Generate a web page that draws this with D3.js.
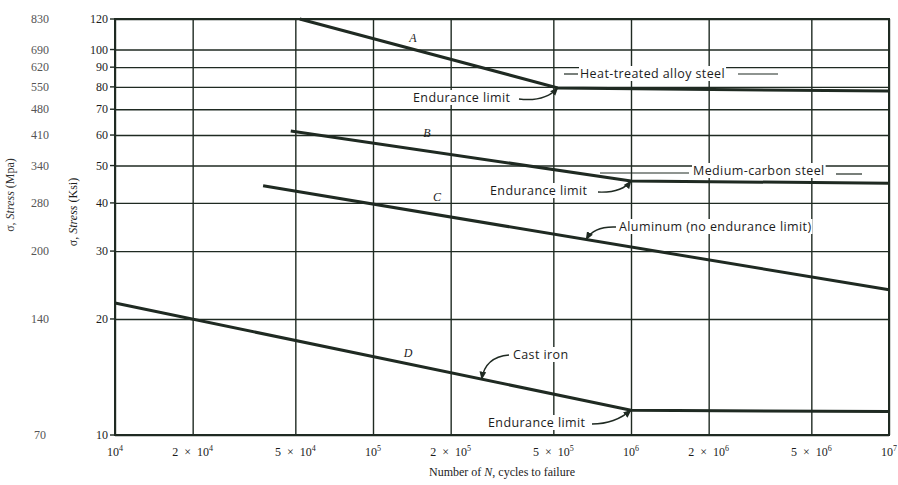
<!DOCTYPE html>
<html>
<head>
<meta charset="utf-8">
<script src="https://cdn.jsdelivr.net/npm/d3@7"></script>
<style>
  body { margin: 0; background: #fff; }
  .note { font-family: "Open Sans", sans-serif; font-size: 12.5px; letter-spacing: 0.4px; fill: #1c1c1c; }
  .tick-label { font-family: "Liberation Serif", serif; font-size: 12px; fill: #1c1c1c; }
</style>
</head>
<body>
<div id="chart"></div>
<script>
// cycles axis
const cycleTicks = [1e4, 2e4, 5e4, 1e5, 2e5, 5e5, 1e6, 2e6, 5e6, 1e7];
const cycleMant = ["", "2", "5", "", "2", "5", "", "2", "5", ""];
const cycleExp = ["4", "4", "4", "5", "5", "5", "6", "6", "6", "7"];

// stress axes
const ksiTicks = [10, 20, 30, 40, 50, 60, 70, 80, 90, 100, 120];
const mpaLabels = ["70", "140", "200", "280", "340", "410", "480", "550", "620", "690", "830"];

// curves (N cycles, stress in ksi)
const curveA_N = [5.2e4, 5.2e5, 1e7];
const curveA_S = [120, 79.5, 78];
const curveB_N = [4.8e4, 1e6, 1e7];
const curveB_S = [61.5, 45.6, 45];
const curveC_N = [3.75e4, 1e7];
const curveC_S = [44.3, 23.8];
const curveD_N = [1e4, 1e6, 1e7];
const curveD_S = [22, 11.6, 11.5];

const WIDTH = 898;
const HEIGHT = 485;
const MARGINS = {left: 115, right: 9, top: 19, bottom: 50};
const INK = "#1f2a22";

const svg = d3.select("#chart")
    .append("svg")
        .attr("width", WIDTH)
        .attr("height", HEIGHT);

const X_SCALE = d3.scaleLog()
                    .domain([1e4, 1e7])
                    .range([MARGINS.left, WIDTH - MARGINS.right]);

const Y_SCALE = d3.scaleLog()
                    .domain([10, 120])
                    .range([HEIGHT - MARGINS.bottom, MARGINS.top]);

// grid
svg.append("g")
    .attr("transform", "translate(0," + (HEIGHT - MARGINS.bottom) + ")")
    .call(d3.axisBottom(X_SCALE)
            .tickValues(cycleTicks)
            .tickSize(-(HEIGHT - MARGINS.top - MARGINS.bottom))
            .tickFormat(""))
    .call(g => g.select(".domain").remove())
    .call(g => g.selectAll("line").attr("stroke", INK).attr("stroke-width", 1.4));

svg.append("g")
    .attr("transform", "translate(" + MARGINS.left + ",0)")
    .call(d3.axisLeft(Y_SCALE)
            .tickValues(ksiTicks)
            .tickSizeInner(-(WIDTH - MARGINS.left - MARGINS.right))
            .tickSizeOuter(0)
            .tickFormat(""))
    .call(g => g.select(".domain").remove())
    .call(g => g.selectAll("line").attr("stroke", INK).attr("stroke-width", 1.4));

// small outward ticks on the left
svg.selectAll("ytick")
    .data(ksiTicks)
    .enter()
    .append("line")
        .attr("x1", MARGINS.left - 5)
        .attr("x2", MARGINS.left)
        .attr("y1", d => Y_SCALE(d))
        .attr("y2", d => Y_SCALE(d))
        .attr("stroke", INK)
        .attr("stroke-width", 1.4);

svg.append("rect")
    .attr("x", MARGINS.left)
    .attr("y", MARGINS.top)
    .attr("width", WIDTH - MARGINS.left - MARGINS.right)
    .attr("height", HEIGHT - MARGINS.top - MARGINS.bottom)
    .attr("fill", "none")
    .attr("stroke", INK)
    .attr("stroke-width", 2);

// tick labels
const xLab = svg.selectAll("xlab")
    .data(cycleTicks)
    .enter()
    .append("text")
        .attr("class", "tick-label")
        .attr("x", d => X_SCALE(d))
        .attr("y", HEIGHT - MARGINS.bottom + 21)
        .attr("text-anchor", "middle");
xLab.append("tspan")
    .text((d, i) => cycleMant[i] ? cycleMant[i] + "\u2002×\u200210" : "10");
xLab.append("tspan")
    .attr("dy", -5)
    .attr("font-size", "8px")
    .text((d, i) => cycleExp[i]);

svg.selectAll("ylab")
    .data(ksiTicks)
    .enter()
    .append("text")
        .attr("class", "tick-label")
        .attr("x", MARGINS.left - 7)
        .attr("y", d => Y_SCALE(d) + 4)
        .attr("text-anchor", "end")
        .text(d => d);

svg.selectAll("mpalab")
    .data(ksiTicks)
    .enter()
    .append("text")
        .attr("class", "tick-label")
        .attr("x", 40)
        .attr("y", d => Y_SCALE(d) + 4)
        .attr("text-anchor", "middle")
        .style("fill", "#555")
        .attr("font-size", "11px")
        .text((d, i) => mpaLabels[i]);

// axis titles
const xTitle = svg.append("text")
    .attr("class", "tick-label")
    .attr("x", 502)
    .attr("y", 476)
    .attr("text-anchor", "middle");
xTitle.append("tspan").text("Number of ");
xTitle.append("tspan").attr("font-style", "italic").text("N");
xTitle.append("tspan").text(", cycles to failure");

function sideTitle(x, y, unit, color) {
    const t = svg.append("text")
        .attr("class", "tick-label")
        .attr("transform", "translate(" + x + "," + y + ") rotate(-90)")
        .attr("text-anchor", "middle")
        .style("fill", color);
    t.append("tspan").text("σ, ");
    t.append("tspan").attr("font-style", "italic").text("Stress");
    t.append("tspan").text(" (" + unit + ")");
}
sideTitle(14, 195, "Mpa", "#333");
sideTitle(77, 212, "Ksi", "#1c1c1c");

// curves
const line = d3.line()
    .x(d => X_SCALE(d[0]))
    .y(d => Y_SCALE(d[1]));

[[curveA_N, curveA_S], [curveB_N, curveB_S], [curveC_N, curveC_S], [curveD_N, curveD_S]]
    .forEach(c => {
        svg.append("path")
            .datum(d3.zip(c[0], c[1]))
            .attr("d", line)
            .attr("fill", "none")
            .attr("stroke", INK)
            .attr("stroke-width", 3);
    });

// annotations
svg.append("defs").append("marker")
    .attr("id", "arrow")
    .attr("viewBox", "0 0 10 10")
    .attr("refX", 9)
    .attr("refY", 5)
    .attr("markerWidth", 6)
    .attr("markerHeight", 6)
    .attr("orient", "auto")
    .append("path")
        .attr("d", "M0,1 L10,5 L0,9 Z")
        .attr("fill", INK);

const noteLayer = svg.append("g");

function note(x, y, txt, anchor) {
    const g = noteLayer.append("g");
    const bg = g.append("rect").attr("fill", "#fff");
    const t = g.append("text")
        .attr("class", "note")
        .attr("x", x)
        .attr("y", y)
        .attr("text-anchor", anchor || "start")
        .text(txt);
    const b = t.node().getBBox();
    bg.attr("x", b.x - 1).attr("y", b.y + 1)
      .attr("width", b.width + 2).attr("height", b.height - 2);
}
function letter(x, y, txt) {
    svg.append("text")
        .attr("class", "tick-label")
        .attr("x", x)
        .attr("y", y)
        .attr("text-anchor", "middle")
        .attr("font-style", "italic")
        .text(txt);
}
function leader(x1, y1, x2, y2) {
    svg.append("line")
        .attr("x1", x1).attr("y1", y1)
        .attr("x2", x2).attr("y2", y2)
        .attr("stroke", INK)
        .attr("stroke-width", 1.2);
}
function curl(x1, y1, cx, cy, tip, head) {
    const p = d3.path();
    p.moveTo(x1, y1);
    p.quadraticCurveTo(cx, cy, tip[0], tip[1]);
    svg.append("path")
        .attr("d", p.toString())
        .attr("fill", "none")
        .attr("stroke", INK)
        .attr("stroke-width", 1.4)
        .attr("marker-end", head ? "url(#arrow)" : null);
}
function onCurve(Ns, Ss, n) {
    const i = d3.bisectRight(Ns, n) - 1;
    const t = (Math.log(n) - Math.log(Ns[i])) / (Math.log(Ns[i + 1]) - Math.log(Ns[i]));
    const s = Math.exp(Math.log(Ss[i]) + t * (Math.log(Ss[i + 1]) - Math.log(Ss[i])));
    return [X_SCALE(n), Y_SCALE(s)];
}

letter(413, 42, "A");
note(580, 78, "Heat-treated alloy steel");
leader(564, 74, 578, 74);
leader(738, 74, 778, 74);
note(413, 102, "Endurance limit");
curl(519, 99, 545, 102, [X_SCALE(curveA_N[1]), Y_SCALE(curveA_S[1])], true);

letter(427, 137, "B");
note(693, 175, "Medium-carbon steel");
leader(600, 173, 689, 173);
leader(836, 174, 862, 174);
note(490, 195, "Endurance limit");
curl(598, 192, 622, 193, [X_SCALE(curveB_N[1]), Y_SCALE(curveB_S[1])], true);

letter(437, 201, "C");
note(619, 231, "Aluminum (no endurance limit)");
curl(616, 227, 594, 226, onCurve(curveC_N, curveC_S, 6.7e5), true);

letter(408, 357, "D");
note(513, 359, "Cast iron");
curl(509, 355, 485, 357, onCurve(curveD_N, curveD_S, 2.64e5), true);
note(488, 427, "Endurance limit");
curl(592, 424, 615, 424, [X_SCALE(curveD_N[1]), Y_SCALE(curveD_S[1])], true);
</script>
</body>
</html>
